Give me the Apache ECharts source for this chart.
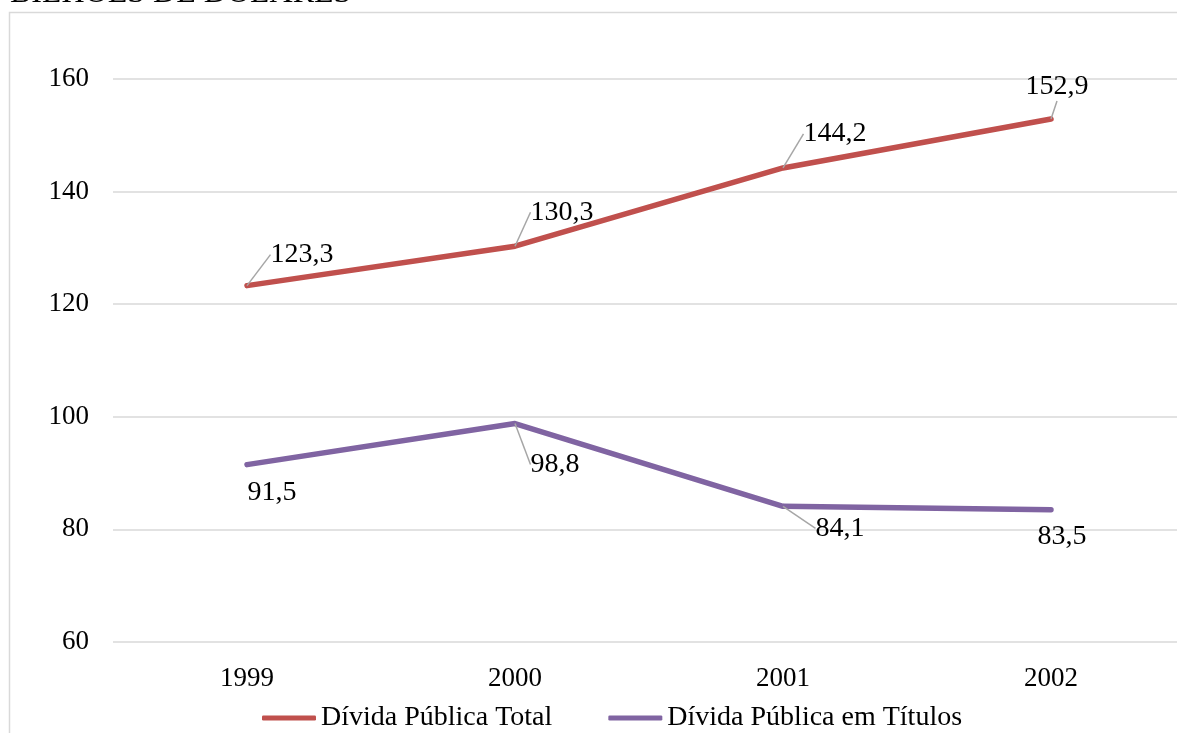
<!DOCTYPE html>
<html>
<head>
<meta charset="utf-8">
<script src="https://cdn.jsdelivr.net/npm/echarts@6/dist/echarts.min.js"></script>
<style>
  html, body { margin: 0; padding: 0; background: #fff; overflow: hidden; }
  #chart { width: 1192px; height: 733px; }
</style>
</head>
<body>
<div id="chart"></div>
<script>
var titleText = 'BILHÕES DE DÓLARES';
var years = ['1999', '2000', '2001', '2002'];
var totalName = 'Dívida Pública Total';
var totalValues = [123.3, 130.3, 144.2, 152.9];
var titulosName = 'Dívida Pública em Títulos';
var titulosValues = [91.5, 98.8, 84.1, 83.5];
var yTicks = [60, 80, 100, 120, 140, 160];

var font = '"Liberation Serif", "Times New Roman", serif';

// label offsets (relative to the default 'top' spot) and which get a leader line
var totalShift = [[55, -12], [47, -15], [52, -15], [6, -13]];
var totalLeader = [true, true, true, true];
var titulosShift = [[25, 47], [40, 60], [57, 41], [11, 46]];
var titulosLeader = [false, true, true, false];

function fmt(p) {
    return String(p.value).replace('.', ',');
}

function lineSeries(name, values, color, shift, leader) {
    return {
        name: name,
        type: 'line',
        data: values.map(function (v, i) {
            return { value: v, labelLine: { show: leader[i] } };
        }),
        symbol: 'circle',
        symbolSize: 0.01,
        showSymbol: true,
        color: color,
        lineStyle: { width: 5.5, cap: 'round', join: 'round' },
        label: {
            show: true,
            position: 'top',
            formatter: fmt,
            fontFamily: font,
            fontSize: 28,
            color: '#000'
        },
        labelLine: { show: true, lineStyle: { color: '#a6a6a6', width: 1.5 } },
        labelLayout: function (p) {
            var s = shift[p.dataIndex];
            return { dx: s[0], dy: s[1] };
        }
    };
}

var chart = echarts.init(document.getElementById('chart'));

var option = {
    animation: false,
    textStyle: { fontFamily: font },
    graphic: [
        {
            type: 'rect',
            shape: { x: 9.5, y: 12.5, width: 1300, height: 900 },
            style: { fill: 'none', stroke: '#d9d9d9', lineWidth: 1.5 },
            silent: true
        },
        {
            type: 'text',
            left: 10,
            top: -22,
            style: {
                text: titleText,
                font: '32px ' + font,
                fill: '#000'
            }
        }
    ],
    grid: {
        left: 113,
        top: 79,
        width: 1072,
        bottom: 91,
        containLabel: false
    },
    legend: {
        left: 257,
        top: 699,
        itemWidth: 54,
        itemHeight: 5,
        itemGap: 56,
        icon: 'roundRect',
        textStyle: { fontFamily: font, fontSize: 28, color: '#000' },
        data: [totalName, titulosName]
    },
    xAxis: {
        type: 'category',
        data: years,
        boundaryGap: true,
        axisLine: { show: false },
        axisTick: { show: false },
        axisLabel: { fontFamily: font, fontSize: 27, color: '#000', margin: 23 }
    },
    yAxis: {
        type: 'value',
        min: yTicks[0],
        max: yTicks[yTicks.length - 1],
        interval: 20,
        axisLine: { show: false },
        axisTick: { show: false },
        axisLabel: { fontFamily: font, fontSize: 27, color: '#000', margin: 24 },
        splitLine: { lineStyle: { color: '#d9d9d9', width: 1.5 } }
    },
    series: [
        lineSeries(totalName, totalValues, '#c0504d', totalShift, totalLeader),
        lineSeries(titulosName, titulosValues, '#8064a2', titulosShift, titulosLeader)
    ]
};

chart.setOption(option);
</script>
</body>
</html>
